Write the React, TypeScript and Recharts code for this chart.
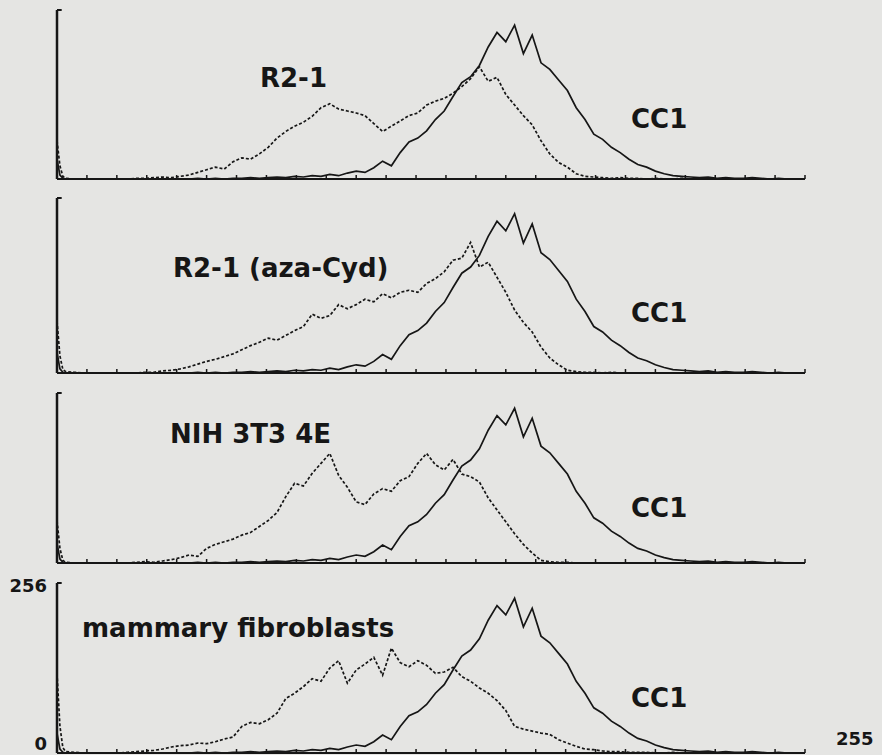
import { LineChart, Line, XAxis, YAxis, ReferenceLine } from "recharts";

// fluorescence channel (0-255)
const channels = [
  0, 1, 2, 3,
  6, 9, 12, 15, 18, 21, 24, 27, 30, 33, 36, 39, 42, 45, 48, 51,
  54, 57, 60, 63, 66, 69, 72, 75, 78, 81, 84, 87, 90, 93, 96, 99,
  102, 105, 108, 111, 114, 117, 120, 123, 126, 129, 132, 135, 138, 141, 144, 147,
  150, 153, 156, 159, 162, 165, 168, 171, 174, 177, 180, 183, 186, 189, 192, 195,
  198, 201, 204, 207, 210, 213, 216, 219, 222, 225, 228, 231, 234, 237, 240, 243,
  246, 249, 252, 255,
];

// CC1 histogram (solid, same in every panel)
const cc1 = [
  30, 6, 1, 0,
  0, 0, 0, 0, 0, 0, 0, 0, 0, 0, 0, 0, 0, 0, 1, 0,
  1, 0, 1, 1, 2, 1, 2, 3, 2, 4, 3, 5, 4, 7, 5, 9,
  12, 10, 17, 27, 20, 40, 56, 62, 73, 90, 103, 125, 146, 155, 172, 200,
  222, 208, 233, 190, 218, 176, 166, 150, 134, 108, 90, 68, 60, 48, 40, 30,
  22, 18, 12, 8, 5, 4, 3, 2, 3, 1, 2, 1, 1, 2, 1, 0,
  1, 0, 0, 0,
];

// dashed histograms
const r21 = [
  58, 20, 4, 1,
  0, 0, 0, 0, 0, 0, 0, 1, 1, 2, 3, 2, 4, 6, 10, 14,
  18, 15, 26, 32, 30, 38, 48, 62, 72, 80, 86, 95, 108, 114, 106, 103,
  100, 96, 84, 72, 80, 88, 96, 100, 112, 118, 122, 130, 140, 152, 170, 148,
  154, 128, 112, 96, 82, 58, 38, 25, 18, 8, 4, 3, 2, 1, 2, 1,
  1, 0, 1, 0, 0, 1, 0, 0, 0, 0, 0, 0, 0, 0, 0, 0,
  0, 0, 0, 0,
];

const r21Aza = [
  76, 25, 5, 2,
  1, 0, 0, 0, 0, 0, 0, 0, 1, 1, 3, 4, 6, 9, 13, 17,
  20, 24, 28, 34, 40, 45, 51, 48, 55, 62, 68, 86, 80, 84, 100, 94,
  100, 108, 104, 116, 110, 118, 121, 118, 131, 138, 148, 165, 168, 191, 155, 162,
  140, 118, 92, 74, 60, 38, 22, 12, 4, 2, 1, 1, 0, 1, 0, 0,
  0, 0, 0, 0, 0, 0, 0, 0, 0, 0, 0, 0, 0, 0, 0, 0,
  0, 0, 0, 0,
];

const nih3t3 = [
  64, 22, 4, 1,
  0, 0, 0, 0, 0, 0, 0, 1, 2, 1, 3, 5, 8, 12, 10, 22,
  28, 32, 36, 42, 46, 55, 64, 76, 100, 120, 116, 135, 150, 165, 132, 114,
  92, 88, 104, 112, 108, 124, 130, 150, 165, 148, 140, 156, 134, 130, 122, 98,
  80, 62, 44, 28, 15, 4, 2, 1, 1, 0, 0, 0, 0, 0, 0, 0,
  0, 0, 0, 0, 0, 0, 0, 0, 0, 0, 0, 0, 0, 0, 0, 0,
  0, 0, 0, 0,
];

const mammary = [
  120, 40, 8, 2,
  1, 0, 0, 0, 0, 0, 1, 2, 3, 4, 6, 9, 11, 12, 15, 14,
  17, 21, 24, 40, 46, 44, 50, 60, 82, 90, 100, 112, 108, 128, 139, 105,
  125, 134, 144, 117, 158, 136, 130, 139, 132, 120, 122, 129, 115, 108, 98, 90,
  79, 64, 40, 36, 33, 30, 28, 20, 15, 10, 6, 5, 3, 2, 2, 1,
  1, 1, 0, 0, 1, 0, 0, 0, 0, 0, 0, 0, 0, 0, 0, 0,
  0, 0, 0, 0,
];

const xTicks = [
  0, 10.2, 20.4, 30.6, 40.8, 51, 61.2, 71.4, 81.6, 91.8, 102, 112.2, 122.4,
  132.6, 142.8, 153, 163.2, 173.4, 183.6, 193.8, 204, 214.2, 224.4, 234.6, 244.8, 255,
];
const yTicks = [0, 256];

const INK = "#161616";
const FONT = "'DejaVu Sans', sans-serif";

const panels = [
  { name: "R2-1", series: r21, top: 10, base: 178, lx: 260, ly: 87, cy: 128 },
  { name: "R2-1 (aza-Cyd)", series: r21Aza, top: 198, base: 372, lx: 173, ly: 277, cy: 322 },
  { name: "NIH 3T3 4E", series: nih3t3, top: 393, base: 562, lx: 170, ly: 443, cy: 517 },
  { name: "mammary fibroblasts", series: mammary, top: 583, base: 752, lx: 82, ly: 637, cy: 707 },
];

const emptyTick = () => <g />;

function yTickLabel(props: any) {
  const { x, y, payload } = props;
  const shift = payload.value === 0 ? -3 : 9;
  return (
    <text x={x} y={y + shift} textAnchor="end" fill={INK} fontSize={18} fontWeight="bold" fontFamily={FONT}>
      {String(payload.value)}
    </text>
  );
}

function Panel({ series, top, base, scale }: { series: number[]; top: number; base: number; scale: boolean }) {
  const data = channels.map((ch, i) => ({ ch, cc1: cc1[i], other: series[i] }));
  const pad = 8;
  return (
    <div style={{ position: "absolute", left: 0, top: top - pad }}>
      <LineChart
        width={882}
        height={base - top + 2 * pad}
        data={data}
        margin={{ top: pad, right: 77, bottom: pad - 1, left: 7 }}
        style={{ overflow: "visible" }}
      >
        <XAxis
          dataKey="ch"
          type="number"
          domain={[0, 255]}
          ticks={xTicks}
          interval={0}
          mirror
          tick={emptyTick}
          tickSize={4}
          height={1}
          axisLine={{ stroke: INK, strokeWidth: 2 }}
          tickLine={{ stroke: INK, strokeWidth: 1.5 }}
        />
        <YAxis
          type="number"
          domain={[0, 256]}
          width={50}
          ticks={yTicks}
          interval={0}
          tickLine={false}
          tickSize={0}
          tickMargin={10}
          tick={scale ? yTickLabel : false}
          axisLine={{ stroke: INK, strokeWidth: 2.5 }}
        />
        <ReferenceLine
          segment={[{ x: 0, y: 256 }, { x: 1.6, y: 256 }]}
          stroke={INK}
          strokeWidth={2}
        />
        <Line
          dataKey="other"
          type="linear"
          stroke={INK}
          strokeWidth={1.7}
          strokeDasharray="3 2"
          dot={false}
          isAnimationActive={false}
        />
        <Line
          dataKey="cc1"
          type="linear"
          stroke={INK}
          strokeWidth={1.7}
          dot={false}
          isAnimationActive={false}
        />
      </LineChart>
    </div>
  );
}

export default function App() {
  const textStyle = { fill: INK, fontFamily: FONT, fontWeight: "bold" as const };
  return (
    <div
      style={{
        position: "absolute",
        left: 0,
        top: 0,
        width: 882,
        height: 755,
        background: "#e5e5e3",
        overflow: "hidden",
      }}
    >
      {panels.map((p, i) => (
        <Panel key={p.name} series={p.series} top={p.top} base={p.base} scale={i === panels.length - 1} />
      ))}
      <svg width={882} height={755} style={{ position: "absolute", left: 0, top: 0, pointerEvents: "none" }}>
        {panels.map((p) => (
          <g key={p.name}>
            <text x={p.lx} y={p.ly} fontSize={26} {...textStyle}>
              {p.name}
            </text>
            <text x={631} y={p.cy} fontSize={26} {...textStyle}>
              CC1
            </text>
          </g>
        ))}
        <text x={836} y={745} fontSize={18} {...textStyle}>
          255
        </text>
      </svg>
    </div>
  );
}
